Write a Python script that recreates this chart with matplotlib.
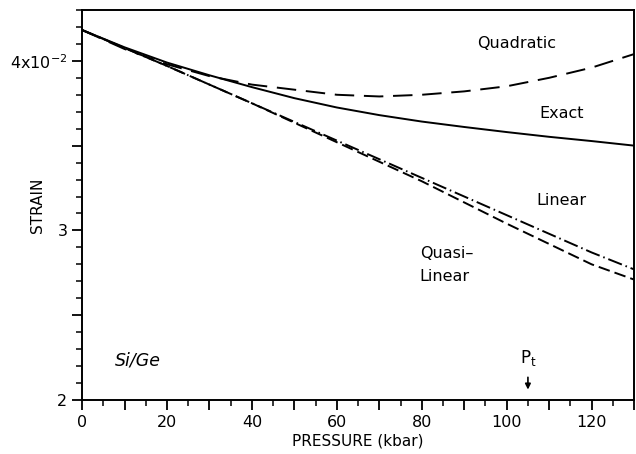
import matplotlib
matplotlib.use("Agg")
import matplotlib.pyplot as plt
import numpy as np

# pressure grid (kbar) and strain
pressure = [0, 10, 20, 30, 40, 50, 60, 70, 80, 90, 100, 110, 120, 130]
exact = [0.04182, 0.0408, 0.0399, 0.03915, 0.03845, 0.0378, 0.03725,
         0.0368, 0.03642, 0.0361, 0.0358, 0.03552, 0.03527, 0.0350]
quadratic = [0.04182, 0.0407, 0.0398, 0.0391, 0.0386, 0.0383, 0.0380,
             0.0379, 0.0380, 0.0382, 0.0385, 0.0390, 0.0396, 0.0404]

p_lin = [0, 20, 40, 60, 80, 100, 120, 130]
linear = [0.04182, 0.0397, 0.0375, 0.0353, 0.0331, 0.0309, 0.0287, 0.0277]
quasi_linear = [0.04182, 0.0397, 0.0375, 0.0352, 0.0329, 0.0304, 0.0280, 0.0271]

p_t = 105

plt.rcParams['font.family'] = ['DejaVu Sans']

fig = plt.figure(figsize=(6.36, 4.54), dpi=100)
ax = fig.add_axes([0.129, 0.119, 0.868, 0.859])

lw = 1.4
ax.plot(pressure, exact, color='black', lw=lw)
ax.plot(pressure, quadratic, color='black', lw=lw, dashes=(10, 5))
ax.plot(p_lin, linear, color='black', lw=lw, dashes=(7.5, 2, 0.8, 2))
ax.plot(p_lin, quasi_linear, color='black', lw=lw, dashes=(6, 2.6))

ax.set_xlim(0, 130)
ax.set_ylim(0.02, 0.0429)

ax.set_xticks(np.arange(0, 131, 10))
ax.set_xticklabels([str(v) if v % 20 == 0 else '' for v in range(0, 131, 10)])
ax.set_xticks(np.arange(0, 131, 5), minor=True)

yt = [0.02, 0.025, 0.03, 0.035, 0.04]
ax.set_yticks(yt)
ax.set_yticklabels(['2', '', '3', '', r'4x10$^{-2}$'])
ax.set_yticks(np.arange(0.02, 0.0431, 0.001), minor=True)

ax.tick_params(which='major', direction='out', length=7, width=1.3, labelsize=11.5)
ax.tick_params(which='minor', direction='out', length=4, width=1.1)
for s in ax.spines.values():
    s.set_linewidth(1.4)

ax.set_xlabel('PRESSURE (kbar)', fontsize=11)
ax.set_ylabel('STRAIN', fontsize=11)
ax.xaxis.set_label_coords(0.5, -0.085)
ax.yaxis.set_label_coords(-0.068, 0.5)

fs = 11.5
ax.text(102.3, 0.0410, 'Quadratic', fontsize=fs, ha='center', va='center')
ax.text(113, 0.03688, 'Exact', fontsize=fs, ha='center', va='center')
ax.text(113, 0.03176, 'Linear', fontsize=fs, ha='center', va='center')
ax.text(79.5, 0.02795, 'Quasi\u2013\nLinear', fontsize=fs, ha='left', va='center',
        linespacing=1.7)
ax.text(7.7, 0.0223, 'Si/Ge', fontsize=12.5, style='italic', ha='left', va='center')

ax.text(p_t, 0.0225, r'P$_\mathregular{t}$', fontsize=12, ha='center', va='center')
ax.annotate('', xy=(p_t, 0.02045), xytext=(p_t, 0.0215),
            arrowprops=dict(arrowstyle='-|>', color='black', lw=1.2,
                            mutation_scale=8))

fig.savefig('out.png', dpi=100)
